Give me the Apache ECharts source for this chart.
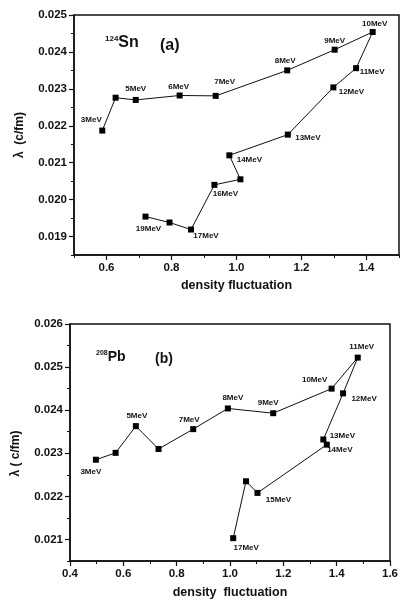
<!DOCTYPE html>
<html>
<head>
<meta charset="utf-8">
<script src="https://cdn.jsdelivr.net/npm/echarts@6/dist/echarts.min.js"></script>
<style>
  html, body { margin: 0; padding: 0; background: #fff; }
  #chart { width: 401px; height: 600px; }
</style>
</head>
<body>
<div id="chart"></div>
<script>
// Panel (a): 124Sn, density fluctuation vs lambda, 3–19 MeV
const snEnergy = ['3MeV', '', '5MeV', '6MeV', '7MeV', '8MeV', '9MeV', '10MeV', '11MeV',
                  '12MeV', '13MeV', '14MeV', '', '16MeV', '17MeV', '', '19MeV'];
const snDensity = [0.587, 0.628, 0.690, 0.825, 0.936, 1.156, 1.302, 1.419, 1.368,
                   1.298, 1.158, 0.978, 1.012, 0.932, 0.860, 0.794, 0.720];
const snLambda = [0.02187, 0.02276, 0.02270, 0.02282, 0.02281, 0.02350, 0.02406, 0.02454, 0.02356,
                  0.02304, 0.02176, 0.02120, 0.02055, 0.02040, 0.01919, 0.01938, 0.01954];

// Panel (b): 208Pb, 3–17 MeV
const pbEnergy = ['3MeV', '', '5MeV', '', '7MeV', '8MeV', '9MeV', '10MeV', '11MeV',
                  '12MeV', '13MeV', '14MeV', '15MeV', '', '17MeV'];
const pbDensity = [0.497, 0.571, 0.647, 0.732, 0.862, 0.992, 1.162, 1.381, 1.479,
                   1.424, 1.350, 1.363, 1.103, 1.060, 1.012];
const pbLambda = [0.02285, 0.02301, 0.02363, 0.02310, 0.02356, 0.02404, 0.02393, 0.02450, 0.02522,
                  0.02439, 0.02332, 0.02320, 0.02208, 0.02235, 0.02103];

// Tick values
const snXTicks = [0.6, 0.8, 1.0, 1.2, 1.4];
const snXMinor = [0.5, 0.7, 0.9, 1.1, 1.3, 1.5];
const snYTicks = [0.019, 0.020, 0.021, 0.022, 0.023, 0.024, 0.025];
const snYMinor = [0.0185, 0.0195, 0.0205, 0.0215, 0.0225, 0.0235, 0.0245];
const pbXTicks = [0.4, 0.6, 0.8, 1.0, 1.2, 1.4, 1.6];
const pbXMinor = [0.5, 0.7, 0.9, 1.1, 1.3, 1.5];
const pbYTicks = [0.021, 0.022, 0.023, 0.024, 0.025, 0.026];
const pbYMinor = [0.0205, 0.0215, 0.0225, 0.0235, 0.0245, 0.0255];

// Where each point label sits relative to its marker (px)
const snLabelShift = {
  '3MeV': [-11, -11], '5MeV': [0, -11], '6MeV': [-1, -9], '7MeV': [9, -14],
  '8MeV': [-2, -10], '9MeV': [0, -9], '10MeV': [2, -8], '11MeV': [16, 4],
  '12MeV': [18, 4], '13MeV': [20, 3], '14MeV': [20, 4], '16MeV': [11, 9],
  '17MeV': [15, 6], '19MeV': [3, 12]
};
const pbLabelShift = {
  '3MeV': [-5, 12], '5MeV': [1, -10], '7MeV': [-4, -9], '8MeV': [5, -11],
  '9MeV': [-5, -10], '10MeV': [-17, -9], '11MeV': [4, -11], '12MeV': [21, 5],
  '13MeV': [19, -4], '14MeV': [13, 5], '15MeV': [21, 7], '17MeV': [13, 10]
};

const FONT = "'Liberation Sans', Arial, sans-serif";
const INK = '#111';

function points(xs, ys, names, shift) {
  return xs.map((x, i) => ({
    value: [x, ys[i]],
    label: names[i]
      ? { show: true, formatter: names[i], offset: shift[names[i]] || [0, 0] }
      : { show: false }
  }));
}

function majorX(grid, min, max, ticks, name, nameGap) {
  return {
    type: 'value', gridIndex: grid, min: min, max: max, position: 'bottom',
    axisLine: { show: true, lineStyle: { color: INK, width: 1.5 } },
    axisTick: { show: true, length: 5, customValues: ticks, lineStyle: { color: INK, width: 1.2 } },
    axisLabel: { customValues: ticks, margin: 7, color: INK, fontFamily: FONT, fontWeight: 'bold', fontSize: 11.5,
                 formatter: v => v.toFixed(1) },
    splitLine: { show: false },
    name: name, nameLocation: 'middle', nameGap: nameGap,
    nameTextStyle: { color: INK, fontFamily: FONT, fontWeight: 'bold', fontSize: 12.5 }
  };
}
// Second axis on the same side, carrying only the short in-between ticks
function minorAxis(side, grid, min, max, ticks) {
  return {
    type: 'value', gridIndex: grid, min: min, max: max, position: side, offset: 0,
    axisLine: { show: false },
    axisTick: { show: true, length: 3, customValues: ticks, lineStyle: { color: INK, width: 1 } },
    axisLabel: { show: false },
    splitLine: { show: false }
  };
}
function majorY(grid, min, max, ticks, name, pad) {
  return {
    type: 'value', gridIndex: grid, min: min, max: max, position: 'left',
    axisLine: { show: true, lineStyle: { color: INK, width: 1.5 } },
    axisTick: { show: true, length: 5, customValues: ticks, lineStyle: { color: INK, width: 1.2 } },
    axisLabel: { customValues: ticks, margin: 7, color: INK, fontFamily: FONT, fontWeight: 'bold', fontSize: 11.5,
                 formatter: v => v.toFixed(3) },
    splitLine: { show: false },
    name: name, nameLocation: 'middle', nameGap: 48, nameRotate: 90,
    nameTextStyle: { color: INK, fontFamily: FONT, fontWeight: 'bold', fontSize: 12, padding: pad }
  };
}

function series(xi, yi, data) {
  return {
    type: 'line', xAxisIndex: xi, yAxisIndex: yi, data: data,
    symbol: 'rect', symbolSize: 6, showAllSymbol: true,
    lineStyle: { color: INK, width: 1 },
    itemStyle: { color: '#000' },
    label: { position: 'inside', align: 'center', verticalAlign: 'middle',
             color: INK, fontFamily: FONT, fontWeight: 'bold', fontSize: 8 },
    animation: false, z: 3
  };
}

function panelTitle(sup, main, size, left, top) {
  return {
    text: '{s|' + sup + '}{m|' + main + '}', left: left, top: top, padding: 0,
    textStyle: { rich: {
      s: { fontFamily: FONT, fontWeight: 'bold', fontSize: Math.round(size * 0.5), color: INK, verticalAlign: 'top' },
      m: { fontFamily: FONT, fontWeight: 'bold', fontSize: size, color: INK }
    } }
  };
}
function panelTag(text, size, left, top) {
  return { text: text, left: left, top: top, padding: 0,
           textStyle: { fontFamily: FONT, fontWeight: 'bold', fontSize: size, color: INK } };
}

const chart = echarts.init(document.getElementById('chart'), null, { renderer: 'canvas' });
chart.setOption({
  backgroundColor: '#fff',
  animation: false,
  title: [
    panelTitle('124', 'Sn', 16, 105, 35),
    panelTag('(a)', 16, 160, 38),
    panelTitle('208', 'Pb', 14, 96, 350),
    panelTag('(b)', 14, 155, 352)
  ],
  grid: [
    { left: 74, top: 15, width: 325, height: 240, show: true, borderColor: INK, borderWidth: 1.5, backgroundColor: 'transparent' },
    { left: 70, top: 324, width: 323, height: 239, show: true, borderColor: INK, borderWidth: 1.5, backgroundColor: 'transparent' }
  ],
  xAxis: [
    majorX(0, 0.5, 1.5, snXTicks, 'density fluctuation', 24),
    minorAxis('bottom', 0, 0.5, 1.5, snXMinor),
    majorX(1, 0.4, 1.6, pbXTicks, 'density  fluctuation', 25),
    minorAxis('bottom', 1, 0.4, 1.6, pbXMinor)
  ],
  yAxis: [
    majorY(0, 0.0185, 0.025, snYTicks, 'λ  (c/fm)', [0, 0, 0, 0]),
    minorAxis('left', 0, 0.0185, 0.025, snYMinor),
    majorY(1, 0.0205, 0.026, pbYTicks, 'λ ( c/fm)', [0, 22, 0, 0]),
    minorAxis('left', 1, 0.0205, 0.026, pbYMinor)
  ],
  series: [
    series(0, 0, points(snDensity, snLambda, snEnergy, snLabelShift)),
    series(2, 2, points(pbDensity, pbLambda, pbEnergy, pbLabelShift))
  ]
});
</script>
</body>
</html>
